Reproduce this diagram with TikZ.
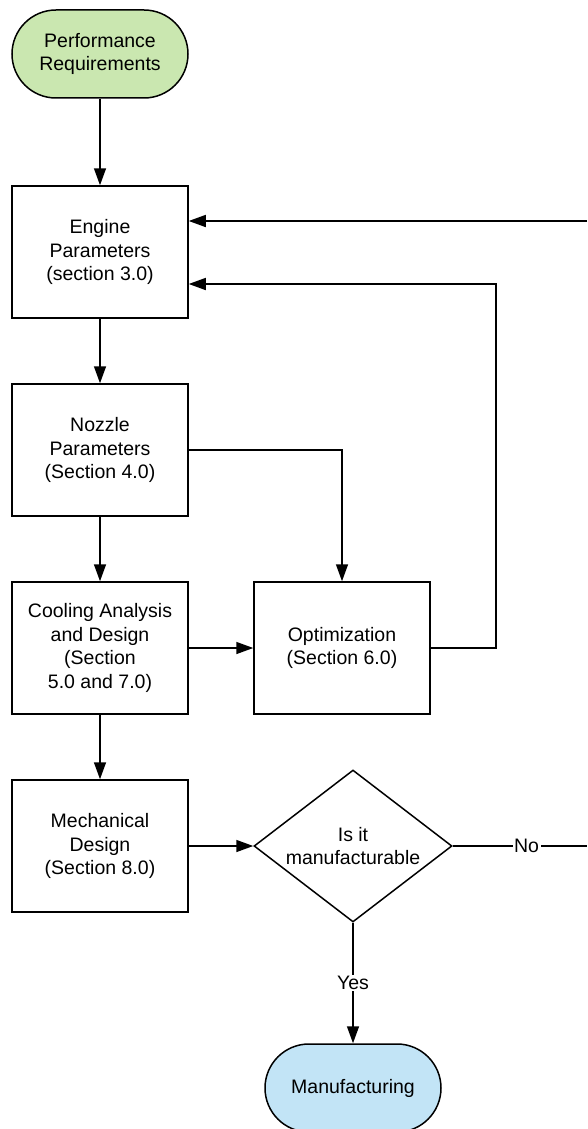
\documentclass[tikz,border=0pt]{standalone}
\usepackage{fontspec}
\setmainfont{Liberation Sans}
\usetikzlibrary{shapes.geometric,arrows.meta}
\definecolor{termgreen}{RGB}{202,231,176}
\definecolor{termblue}{RGB}{194,228,246}

\begin{document}
\begin{tikzpicture}[x=1pt,y=-1pt,
 font=\fontsize{19.5}{23.5}\selectfont,
 box/.style={draw,line width=1.5pt,minimum width=176pt,minimum height=132pt,align=center,inner sep=0pt},
 term/.style={draw,line width=1.5pt,rounded corners=44pt,minimum width=176pt,minimum height=88pt,align=center,inner sep=0pt},
 decision/.style={draw,diamond,aspect=1.3,line width=1.5pt,minimum width=198pt,minimum height=152pt,align=center,inner sep=0pt},
 arr/.style={line width=1.5pt,-{Triangle[length=17pt,width=12pt]}},
 lin/.style={line width=1.5pt},
 tag/.style={fill=white,inner sep=1.5pt}]
\useasboundingbox (0,0) rectangle (587,1129);

% blocks
\node [term,fill=termgreen] (perf) at (100,54) {Performance\\Requirements};
\node [box] (engine) at (100,252) {Engine\\Parameters\\(section 3.0)};
\node [box] (nozzle) at (100,450) {Nozzle\\Parameters\\(Section 4.0)};
\node [box] (cool) at (100,648) {Cooling Analysis\\and Design\\(Section\\5.0 and 7.0)};
\node [box] (opt) at (342,648) {Optimization\\(Section 6.0)};
\node [box] (mech) at (100,846) {Mechanical\\Design\\(Section 8.0)};
\node [decision] (check) at (353,846) {Is it\\manufacturable};
\node [term,fill=termblue] (manuf) at (353,1088) {Manufacturing};

% loose ends at the right border
\coordinate (rin) at (587,221);
\coordinate (rout) at (587,846);
\coordinate (loop) at (496,284);

% arrows
\draw [arr] (perf.south) -- (engine.north);
\draw [arr] (engine.south) -- (nozzle.north);
\draw [arr] (nozzle.south) -- (cool.north);
\draw [arr] (cool.south) -- (mech.north);
\draw [arr] (cool.east) -- (opt.west);
\draw [arr] (nozzle.east) -| (opt.north);
\draw [arr] (opt.east) -| (loop) -- (loop -| engine.east);
\draw [arr] (rin) -- (rin -| engine.east);
\draw [arr] (mech.east) -- (check.west);
\draw [lin] (check.east) -- node [tag,pos=0.55] {No} (rout);
\draw [arr] (check.south) -- node [tag] {Yes} (manuf.north);
\end{tikzpicture}
\end{document}
